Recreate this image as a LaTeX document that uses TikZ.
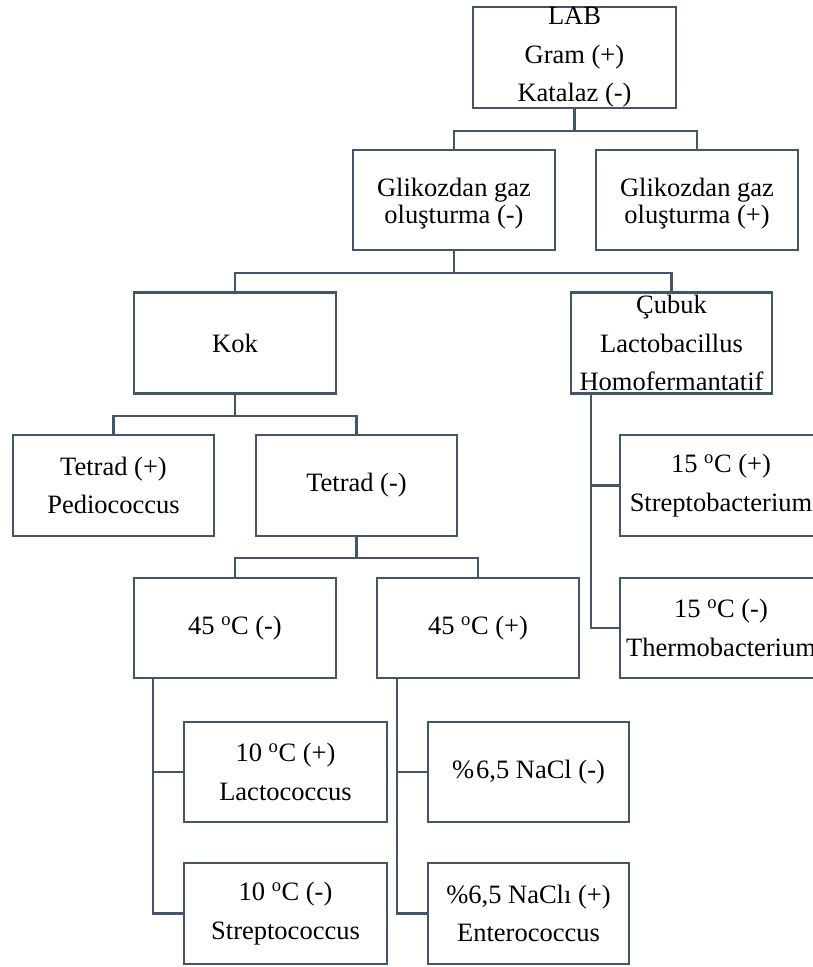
\documentclass[tikz,border=0pt]{standalone}
\usepackage{fontspec}
\setmainfont{Liberation Serif}
\usetikzlibrary{calc}
\definecolor{edge}{HTML}{44546A}
\tikzset{
  box/.style={draw=edge, line width=2.4pt, rectangle, inner sep=0pt, minimum width=202pt, minimum height=101pt, align=center, font=\fontsize{26.5}{38.5}\selectfont, text=black},
  tighttext/.style={align=center, inner sep=0pt, font=\fontsize{26.5}{27}\selectfont, text=black},
  conn/.style={draw=edge, line width=2.4pt}
}
\newcommand{\dg}{\textsuperscript{o}}
\begin{document}
\begin{tikzpicture}[x=1pt,y=-1pt]
\useasboundingbox (0,0) rectangle (813,967);
\clip (0,0) rectangle (813,967);
\node[box, minimum width=203pt] (lab) at (574.5,57.5) {LAB\\Gram (+)\\Katalaz (-)};
\node[box, minimum height=100pt] (gm) at (454,200) {};
\node[tighttext] (gmt) at ($(gm.center)+(0,4)$) {Glikozdan gaz\\oluşturma (-)};
\node[box, minimum height=100pt] (gp) at (697,200) {};
\node[tighttext] (gpt) at ($(gp.center)+(0,4)$) {Glikozdan gaz\\oluşturma (+)};
\node[box] (kok) at (235,343) {Kok};
\node[box, minimum width=201pt] (cub) at (671.5,343) {Çubuk\\Lactobacillus\\Homofermantatif};
\node[box, minimum width=201pt] (tp) at (113.5,485.5) {Tetrad (+)\\Pediococcus};
\node[box, minimum width=201pt] (tm) at (356.5,485.5) {Tetrad (-)};
\node[box] (s15p) at (721,485.5) {15 \dg C (+)\\Streptobacterium};
\node[box, minimum height=100pt] (f45m) at (235,628) {45 \dg C (-)};
\node[box, minimum height=100pt] (f45p) at (478,628) {45 \dg C (+)};
\node[box, minimum height=100pt] (s15m) at (721,628) {15 \dg C (-)\\Thermobacterium};
\node[box, minimum width=203pt, minimum height=100pt] (l10p) at (285.5,772) {10 \dg C (+)\\Lactococcus};
\node[box, minimum width=201pt, minimum height=100pt] (nacm) at (528.5,772) {\%\kern2pt6,5 NaCl (-)};
\node[box, minimum width=203pt] (l10m) at (285.5,913.5) {10 \dg C (-)\\Streptococcus};
\node[box, minimum width=201pt] (nacp) at (528.5,913.5) {\%6,5 NaClı (+)\\Enterococcus};
% connectors
\draw[conn] (lab.south) -- ++(0,22) -| (gm.north);
\draw[conn] (lab.south) -- ++(0,22) -| (gp.north);
\draw[conn] (gm.south) -- ++(0,22) -| (kok.north);
\draw[conn] (gm.south) -- ++(0,22) -| (cub.north);
\draw[conn] (kok.south) -- ++(0,21) -| (tp.north);
\draw[conn] (kok.south) -- ++(0,21) -| (tm.north);
\draw[conn] (tm.south) -- ++(0,21) -| (f45m.north);
\draw[conn] (tm.south) -- ++(0,21) -| (f45p.north);
\coordinate (cubdrop) at ($(cub.south west)+(21,0)$);
\draw[conn] (cubdrop) |- (s15p.west);
\draw[conn] (cubdrop) |- (s15m.west);
\coordinate (f45mdrop) at ($(f45m.south west)+(20,0)$);
\draw[conn] (f45mdrop) |- (l10p.west);
\draw[conn] (f45mdrop) |- (l10m.west);
\coordinate (f45pdrop) at ($(f45p.south west)+(21,0)$);
\draw[conn] (f45pdrop) |- (nacm.west);
\draw[conn] (f45pdrop) |- (nacp.west);
\end{tikzpicture}
\end{document}
